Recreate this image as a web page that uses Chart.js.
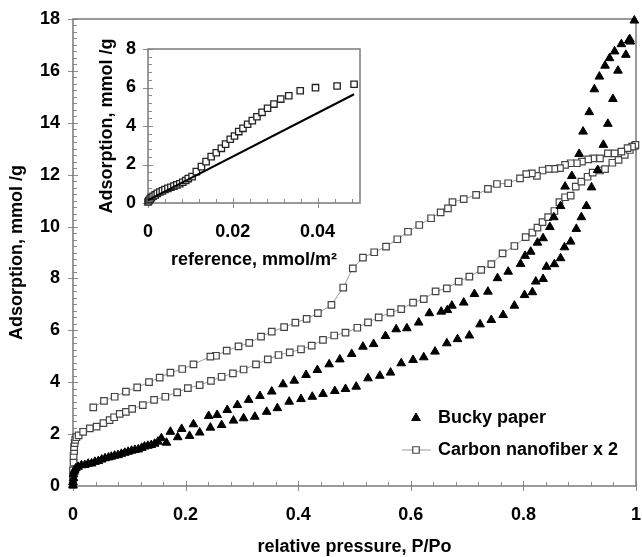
<!DOCTYPE html>
<html>
<head>
<meta charset="utf-8">
<title>Adsorption isotherms</title>
<script src="https://cdn.jsdelivr.net/npm/chart.js@4"></script>
<style>
    html, body { margin: 0; padding: 0; background: #fff; }
    #wrap { position: relative; width: 642px; height: 557px; }
    #main { position: absolute; left: 0; top: 0; }
    #inset { position: absolute; left: 90px; top: 30px; }
</style>
</head>
<body>
<div id="wrap">
    <canvas id="main" width="642" height="557"></canvas>
    <canvas id="inset" width="285" height="240"></canvas>
</div>
<script>
// Dados: [P/Po, mmol/g]
const buckyAdsorption = [
    [0, 0.02], [0, 0.15], [0.001, 0.30], [0.001, 0.45], [0.002, 0.55], [0.003, 0.62], [0.005, 0.68],
    [0.009, 0.74], [0.021, 0.81], [0.033, 0.87], [0.045, 0.96], [0.057, 1.07], [0.068, 1.13],
    [0.080, 1.19], [0.092, 1.28], [0.104, 1.36], [0.116, 1.41], [0.127, 1.52], [0.139, 1.58],
    [0.151, 1.71], [0.166, 1.67], [0.186, 1.88], [0.207, 1.93], [0.225, 2.06], [0.244, 2.25],
    [0.264, 2.35], [0.285, 2.52], [0.303, 2.61], [0.323, 2.67], [0.344, 2.86], [0.363, 3.00],
    [0.384, 3.25], [0.405, 3.35], [0.425, 3.44], [0.444, 3.55], [0.465, 3.66], [0.484, 3.74],
    [0.503, 3.83], [0.524, 4.15], [0.545, 4.25], [0.564, 4.37], [0.583, 4.73], [0.604, 4.86],
    [0.623, 4.96], [0.643, 5.18], [0.664, 5.50], [0.683, 5.66], [0.704, 5.80], [0.723, 6.23],
    [0.743, 6.40], [0.764, 6.59], [0.784, 6.95], [0.802, 7.36], [0.816, 7.47], [0.822, 7.88],
    [0.835, 7.98], [0.841, 8.45], [0.855, 8.55], [0.866, 8.78], [0.873, 9.20], [0.884, 9.42],
    [0.894, 9.91], [0.903, 10.36], [0.912, 10.79], [0.921, 11.51], [0.932, 12.18], [0.942, 13.15],
    [0.950, 13.96], [0.959, 14.92], [0.968, 16.01], [0.982, 16.62], [0.990, 17.13], [0.997, 17.94]
];
const buckyDesorption = [
    [0.015, 0.80], [0.027, 0.86], [0.039, 0.93], [0.051, 1.02], [0.063, 1.10], [0.074, 1.17],
    [0.086, 1.24], [0.098, 1.32], [0.110, 1.39], [0.122, 1.47], [0.133, 1.55], [0.145, 1.63],
    [0.157, 1.84], [0.173, 2.09], [0.193, 2.20], [0.214, 2.38], [0.241, 2.70], [0.256, 2.74],
    [0.274, 2.93], [0.292, 3.12], [0.312, 3.32], [0.332, 3.47], [0.353, 3.64], [0.373, 3.92],
    [0.393, 4.06], [0.414, 4.28], [0.434, 4.47], [0.455, 4.69], [0.474, 4.88], [0.495, 5.09],
    [0.515, 5.37], [0.534, 5.47], [0.555, 5.78], [0.574, 6.04], [0.593, 6.08], [0.614, 6.30],
    [0.633, 6.66], [0.654, 6.72], [0.665, 6.78], [0.673, 6.95], [0.694, 7.07], [0.713, 7.40],
    [0.737, 7.49], [0.754, 8.01], [0.773, 8.26], [0.795, 8.56], [0.803, 8.87], [0.813, 9.03],
    [0.825, 9.38], [0.835, 9.55], [0.847, 9.98], [0.854, 10.36], [0.866, 10.79], [0.874, 11.54],
    [0.886, 11.95], [0.899, 12.80], [0.906, 13.66], [0.917, 14.41], [0.926, 15.29], [0.935, 15.78],
    [0.945, 16.20], [0.953, 16.49], [0.962, 16.75], [0.974, 17.03], [0.987, 17.17], [0.989, 17.22]
];
const cnfAdsorption = [
    [0, 0.05], [0, 0.30], [0, 0.60], [0.001, 0.90], [0.001, 1.15], [0.002, 1.35], [0.002, 1.50],
    [0.003, 1.65], [0.004, 1.78], [0.006, 1.88], [0.010, 1.95], [0.018, 2.09], [0.030, 2.22],
    [0.042, 2.29], [0.054, 2.42], [0.065, 2.54], [0.073, 2.65], [0.083, 2.78], [0.094, 2.86],
    [0.105, 2.97], [0.124, 3.12], [0.144, 3.32], [0.164, 3.44], [0.185, 3.61], [0.204, 3.77],
    [0.225, 3.89], [0.245, 4.05], [0.264, 4.21], [0.284, 4.34], [0.303, 4.49], [0.325, 4.69],
    [0.346, 4.88], [0.365, 5.05], [0.385, 5.15], [0.405, 5.27], [0.424, 5.41], [0.444, 5.63],
    [0.464, 5.80], [0.484, 5.91], [0.505, 6.10], [0.524, 6.31], [0.543, 6.50], [0.564, 6.68],
    [0.583, 6.82], [0.604, 7.07], [0.623, 7.20], [0.644, 7.50], [0.664, 7.62], [0.685, 7.88],
    [0.704, 8.07], [0.725, 8.33], [0.743, 8.55], [0.763, 8.97], [0.784, 9.25], [0.804, 9.59],
    [0.816, 9.77], [0.825, 9.96], [0.834, 10.17], [0.844, 10.36], [0.855, 10.60], [0.864, 10.94],
    [0.874, 11.13], [0.884, 11.19], [0.893, 11.54], [0.903, 11.73], [0.914, 11.92], [0.923, 12.08],
    [0.936, 12.16], [0.945, 12.21], [0.958, 12.46], [0.969, 12.57], [0.980, 12.76], [0.989, 12.95],
    [0.998, 13.11]
];
const cnfDesorption = [
    [0.036, 3.03], [0.055, 3.28], [0.074, 3.44], [0.094, 3.64], [0.114, 3.80], [0.135, 4.00],
    [0.154, 4.18], [0.173, 4.37], [0.194, 4.51], [0.214, 4.69], [0.244, 4.99], [0.254, 5.02],
    [0.273, 5.22], [0.294, 5.38], [0.313, 5.52], [0.334, 5.76], [0.353, 5.95], [0.375, 6.12],
    [0.395, 6.30], [0.415, 6.44], [0.435, 6.66], [0.459, 6.98], [0.480, 7.65], [0.497, 8.39],
    [0.515, 8.80], [0.535, 9.01], [0.556, 9.23], [0.576, 9.51], [0.595, 9.80], [0.615, 10.06],
    [0.636, 10.32], [0.653, 10.55], [0.666, 10.70], [0.674, 10.94], [0.694, 11.06], [0.716, 11.22],
    [0.737, 11.45], [0.753, 11.64], [0.773, 11.67], [0.794, 11.86], [0.805, 12.02], [0.815, 12.05],
    [0.824, 11.95], [0.834, 12.16], [0.845, 12.22], [0.855, 12.22], [0.865, 12.25], [0.874, 12.38],
    [0.884, 12.44], [0.895, 12.44], [0.904, 12.50], [0.915, 12.59], [0.924, 12.63], [0.936, 12.63],
    [0.950, 12.82], [0.962, 12.82], [0.974, 12.89], [0.985, 13.02], [0.993, 13.08], [0.999, 13.15]
];

// Inset: [reference mmol/m2, mmol/g]
const insetSquares = [
    [0.0000, 0.05], [0.0002, 0.12], [0.0005, 0.20], [0.0008, 0.28], [0.0012, 0.35], [0.0017, 0.42],
    [0.0022, 0.50], [0.0028, 0.57], [0.0034, 0.63], [0.0040, 0.70], [0.0047, 0.76], [0.0054, 0.82],
    [0.0061, 0.88], [0.0068, 0.94], [0.0075, 1.00], [0.0082, 1.08], [0.0089, 1.17], [0.0095, 1.27],
    [0.0104, 1.37], [0.0114, 1.63], [0.0126, 1.89], [0.0137, 2.15], [0.0149, 2.41], [0.0161, 2.61],
    [0.0173, 2.84], [0.0183, 3.06], [0.0194, 3.31], [0.0204, 3.48], [0.0214, 3.71], [0.0224, 3.88],
    [0.0235, 4.09], [0.0246, 4.28], [0.0257, 4.48], [0.0269, 4.71], [0.0282, 4.92], [0.0297, 5.14],
    [0.0313, 5.40], [0.0332, 5.57], [0.0359, 5.83], [0.0395, 5.99], [0.0446, 6.08], [0.0486, 6.17]
];
const insetLine = [[0, 0.15], [0.0486, 5.65]];

const xTickValues = [0, 0.2, 0.4, 0.6, 0.8, 1];
const yTickValues = [0, 2, 4, 6, 8, 10, 12, 14, 16, 18];
const insetXTicks = [0, 0.02, 0.04];
const insetYTicks = [0, 2, 4, 6, 8];

const FONT = '"Liberation Sans", Arial, Helvetica, sans-serif';
Chart.defaults.font.family = FONT;
Chart.defaults.color = '#000';

const toXY = arr => arr.map(p => ({ x: p[0], y: p[1] }));

// Caixa em volta da área do gráfico + marcas internas (maiores e menores)
const frameTicks = {
    id: 'frameTicks',
    beforeDatasetsDraw(chart, args, o) {
        const { ctx, chartArea: a } = chart;
        const sx = chart.scales.x, sy = chart.scales.y;
        ctx.save();
        ctx.strokeStyle = '#8c8c8c';
        ctx.lineWidth = 1;
        const nx = Math.floor((sx.max - sx.min) / o.xMinor + 1e-6);
        for (let i = 0; i <= nx; i++) {
            const px = Math.round(sx.getPixelForValue(sx.min + i * o.xMinor)) + 0.5;
            const major = i % o.xEvery === 0;
            ctx.beginPath();
            ctx.moveTo(px, a.bottom + (major ? 5 : 0));
            ctx.lineTo(px, a.bottom - (major ? 5 : 4));
            ctx.stroke();
        }
        const ny = Math.floor((sy.max - sy.min) / o.yMinor + 1e-6);
        for (let i = 0; i <= ny; i++) {
            const py = Math.round(sy.getPixelForValue(sy.min + i * o.yMinor)) + 0.5;
            const major = i % o.yEvery === 0;
            ctx.beginPath();
            ctx.moveTo(a.left - (major ? 5 : 0), py);
            ctx.lineTo(a.left + (major ? 5 : 4), py);
            ctx.stroke();
        }
        ctx.strokeStyle = '#7a7a7a';
        ctx.lineWidth = 1.5;
        ctx.strokeRect(a.left, a.top, a.right - a.left, a.bottom - a.top);
        ctx.restore();
    }
};

// Legenda no canto inferior direito
const cornerLegend = {
    id: 'cornerLegend',
    afterDraw(chart, args, o) {
        if (!o || !o.show) return;
        const { ctx, chartArea: a } = chart;
        ctx.save();
        ctx.font = 'bold 18px ' + FONT;
        ctx.textBaseline = 'middle';
        chart.data.datasets.forEach((ds, i) => {
            const mx = a.right - o.dx;
            const my = a.bottom - o.dy + i * o.gap;
            if (ds.showLine) {
                ctx.strokeStyle = ds.borderColor;
                ctx.lineWidth = ds.borderWidth;
                ctx.beginPath();
                ctx.moveTo(mx - 14, my);
                ctx.lineTo(mx + 15, my);
                ctx.stroke();
            }
            const r = ds.pointRadius;
            ctx.beginPath();
            if (ds.pointStyle === 'triangle') {
                ctx.moveTo(mx, my - r);
                ctx.lineTo(mx + r * 0.866, my + r / 2);
                ctx.lineTo(mx - r * 0.866, my + r / 2);
                ctx.closePath();
            } else {
                const s = r * Math.SQRT1_2;
                ctx.rect(mx - s, my - s, 2 * s, 2 * s);
            }
            ctx.fillStyle = ds.pointBackgroundColor;
            ctx.fill();
            ctx.strokeStyle = ds.pointBorderColor;
            ctx.lineWidth = ds.pointBorderWidth;
            ctx.stroke();
            ctx.fillStyle = '#000';
            ctx.fillText(ds.label, mx + 22, my);
        });
        ctx.restore();
    }
};

const tickFont = { family: FONT, size: 18, weight: 'bold' };
const titleFont = { family: FONT, size: 18, weight: 'bold', lineHeight: 1 };

// Tira o espaço extra que o Chart.js reserva para os rótulos das pontas
function fixX(height) {
    return s => { s.height = height; s.paddingLeft = 0; s.paddingRight = 0; };
}
function fixY(width) {
    return s => { s.width = width; s.paddingTop = 0; s.paddingBottom = 0; };
}

function renderMainChart() {
    const canvas = document.getElementById('main');
    const lineOrder = cnfAdsorption.concat(cnfDesorption.slice().reverse());
    new Chart(canvas, {
        type: 'scatter',
        data: {
            datasets: [
                {
                    label: 'Bucky paper',
                    data: toXY(buckyAdsorption.concat(buckyDesorption)),
                    showLine: false,
                    pointStyle: 'triangle',
                    pointRadius: 5,
                    pointBackgroundColor: '#000',
                    pointBorderColor: '#000',
                    pointBorderWidth: 1,
                    clip: false
                },
                {
                    label: 'Carbon nanofiber x 2',
                    data: toXY(lineOrder),
                    showLine: true,
                    borderColor: '#9a9a9a',
                    borderWidth: 1,
                    pointStyle: 'rect',
                    pointRadius: 4.6,
                    pointBackgroundColor: '#fff',
                    pointBorderColor: '#444',
                    pointBorderWidth: 1.2,
                    clip: false
                }
            ]
        },
        options: {
            responsive: false,
            animation: false,
            events: [],
            layout: { padding: { top: 19, right: 4, left: 0, bottom: 0 } },
            plugins: {
                legend: { display: false },
                tooltip: { enabled: false },
                frameTicks: { xMinor: 0.04, xEvery: 5, yMinor: 0.25, yEvery: 8 },
                cornerLegend: { show: true, dx: 220, dy: 68, gap: 32 }
            },
            scales: {
                x: {
                    type: 'linear',
                    min: 0,
                    max: 1,
                    afterBuildTicks: s => { s.ticks = xTickValues.map(v => ({ value: v })); },
                    ticks: { font: tickFont, color: '#000', padding: 18, maxRotation: 0,
                             callback: v => String(+v.toFixed(1)) },
                    grid: { display: false, drawTicks: false },
                    border: { display: false },
                    title: { display: true, text: 'relative pressure, P/Po', font: titleFont,
                             color: '#000', padding: { top: 0, bottom: 1 } },
                    afterFit: fixX(71)
                },
                y: {
                    type: 'linear',
                    min: 0,
                    max: 18,
                    afterBuildTicks: s => { s.ticks = yTickValues.map(v => ({ value: v })); },
                    ticks: { font: tickFont, color: '#000', padding: 13 },
                    grid: { display: false, drawTicks: false },
                    border: { display: false },
                    title: { display: true, text: 'Adsorption, mmol /g', font: titleFont,
                             color: '#000', padding: { top: 8, bottom: 0 } },
                    afterFit: fixY(73)
                }
            }
        },
        plugins: [frameTicks, cornerLegend]
    });
}

function renderInsetChart() {
    const canvas = document.getElementById('inset');
    new Chart(canvas, {
        type: 'scatter',
        data: {
            datasets: [
                {
                    label: 'reference',
                    data: toXY(insetLine),
                    showLine: true,
                    borderColor: '#000',
                    borderWidth: 2,
                    pointRadius: 0,
                    clip: false
                },
                {
                    label: 'Carbon nanofiber',
                    data: toXY(insetSquares),
                    showLine: false,
                    pointStyle: 'rect',
                    pointRadius: 4.5,
                    pointBackgroundColor: '#fff',
                    pointBorderColor: '#222',
                    pointBorderWidth: 1.3,
                    clip: false
                }
            ]
        },
        options: {
            responsive: false,
            animation: false,
            events: [],
            layout: { padding: { top: 19, right: 15, left: 0, bottom: 0 } },
            plugins: {
                legend: { display: false },
                tooltip: { enabled: false },
                frameTicks: { xMinor: 0.004, xEvery: 5, yMinor: 0.4, yEvery: 5 },
                cornerLegend: { show: false }
            },
            scales: {
                x: {
                    type: 'linear',
                    min: 0,
                    max: 0.05,
                    afterBuildTicks: s => { s.ticks = insetXTicks.map(v => ({ value: v })); },
                    ticks: { font: tickFont, color: '#000', padding: 18, maxRotation: 0,
                             callback: v => String(+v.toFixed(2)) },
                    grid: { display: false, drawTicks: false },
                    border: { display: false },
                    title: { display: true, text: 'reference, mmol/m\u00B2', font: titleFont,
                             color: '#000', padding: { top: 0, bottom: 1 } },
                    afterFit: fixX(67)
                },
                y: {
                    type: 'linear',
                    min: 0,
                    max: 8,
                    afterBuildTicks: s => { s.ticks = insetYTicks.map(v => ({ value: v })); },
                    ticks: { font: tickFont, color: '#000', padding: 12 },
                    grid: { display: false, drawTicks: false },
                    border: { display: false },
                    title: { display: true, text: 'Adsorption, mmol /g', font: titleFont,
                             color: '#000', padding: { top: 8, bottom: 0 } },
                    afterFit: fixY(58)
                }
            }
        },
        plugins: [frameTicks]
    });
}

renderMainChart();
renderInsetChart();
</script>
</body>
</html>
